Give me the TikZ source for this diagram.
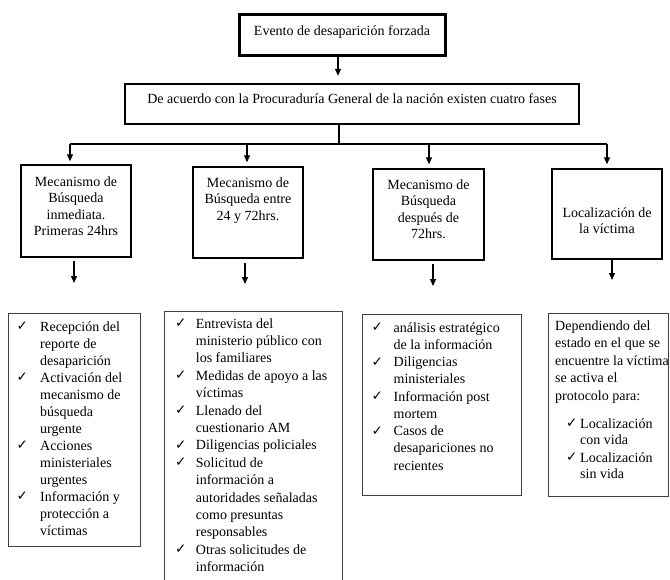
\documentclass[tikz,border=0pt]{standalone}
\usepackage{fontspec}
\usepackage{array}
\setmainfont{Liberation Serif}
\newfontfamily\chkfont{DejaVu Sans}
\usetikzlibrary{arrows.meta}
\newcommand{\ck}[1]{\makebox[#1][l]{\raisebox{0.3pt}{\chkfont\fontsize{13.5}{12}\selectfont ✓}}}
\newcommand{\cki}[2]{\makebox[#1][l]{\hspace*{#2}\raisebox{0.3pt}{\chkfont\fontsize{13.5}{12}\selectfont ✓}}}
\begin{document}
\begin{tikzpicture}[x=1pt,y=-1pt,
  thickbox/.style={draw, line width=3pt, inner sep=0pt},
  midbox/.style={draw, line width=2.4pt, inner sep=0pt},
  mechbox/.style={draw, line width=1.5pt, inner sep=0pt},
  listbox/.style={draw=black!75, line width=1pt},
  txt/.style={inner sep=0pt, font=\fontsize{14}{16.4}\selectfont},
  arr/.style={line width=1.3pt, -{Triangle[length=7pt,width=6pt]}},
  ln/.style={line width=1.3pt}]
\useasboundingbox (0,0) rectangle (670,579);
\clip (0,0) rectangle (670,579);

% top boxes
\node[thickbox, minimum width=206pt, minimum height=41pt] (top) at (342,34.5) {};
\node[txt, anchor=base] (toptxt) at (342,35) {Evento de desaparición forzada};
\node[midbox, minimum width=454pt, minimum height=40pt] (b2) at (352,104) {};
\node[txt, anchor=base] (b2txt) at (352,103) {De acuerdo con la Procuraduría General de la nación existen cuatro fases};

\coordinate (c1) at (338,0);
\coordinate (c2) at (339,0);
\draw[arr] (top.south -| c1) -- ([yshift=7pt]b2.north -| c1);

% mechanism boxes
\node[mechbox, minimum width=110pt, minimum height=92pt] (m1) at (76,211) {};
\node[mechbox, minimum width=110pt, minimum height=91pt] (m2) at (248,212.5) {};
\node[mechbox, minimum width=111pt, minimum height=91pt] (m3) at (428.5,214.5) {};
\node[mechbox, minimum width=110pt, minimum height=90pt] (m4) at (607,214) {};

\node[txt, anchor=base] (m1txt) at (76,186.5) {\begin{tabular}[t]{@{}c@{}}Mecanismo de\\Búsqueda\\inmediata.\\Primeras 24hrs\end{tabular}};
\node[txt, anchor=base] (m2txt) at (248,187.5) {\begin{tabular}[t]{@{}c@{}}Mecanismo de\\Búsqueda entre\\24 y 72hrs.\end{tabular}};
\node[txt, anchor=base] (m3txt) at (428.5,189.5) {\begin{tabular}[t]{@{}c@{}}Mecanismo de\\Búsqueda\\después de\\72hrs.\end{tabular}};
\node[txt, anchor=base] (m4txt) at (607,217.5) {\begin{tabular}[t]{@{}c@{}}Localización de\\la víctima\end{tabular}};

% branching connectors
\coordinate (h0) at (339,144);
\coordinate (h1) at (70,144);
\coordinate (h2) at (247,144);
\coordinate (h3) at (429,144);
\coordinate (h4) at (607,144);
\draw[ln] (b2.south -| c2) -- (h0);
\draw[ln] (h1) -- (h4);
\draw[arr, shorten >=3pt] (h1) -- (h1 |- m1.north);
\draw[arr, shorten >=4pt] (h2) -- (h2 |- m2.north);
\draw[arr, shorten >=4pt] (h3) -- (h3 |- m3.north);
\draw[arr, shorten >=4pt] (h4) -- (h4 |- m4.north);

% arrows below mechanism boxes
\coordinate (d1s) at (74,261);  \coordinate (d1e) at (74,283);
\coordinate (d2s) at (245,263); \coordinate (d2e) at (245,284);
\coordinate (d3s) at (433,264); \coordinate (d3e) at (433,286);
\coordinate (d4s) at (612,259.5); \coordinate (d4e) at (612,280);
\draw[arr] (d1s) -- (d1e);
\draw[arr] (d2s) -- (d2e);
\draw[arr] (d3s) -- (d3e);
\draw[arr] (d4s) -- (d4e);

% list boxes
\draw[listbox] (8,313) rectangle (140,546);
\draw[listbox] (164,311) rectangle (342,600);
\draw[listbox] (362,314) rectangle (521,495);
\draw[listbox] (548,313) rectangle (668,496);

\node[inner sep=0pt, anchor=base west, font=\fontsize{14}{17}\selectfont] (la) at (16.5,331) {%
\begin{tabular}[t]{@{}l@{}l@{}}
\ck{23.5pt} & Recepción del\\
 & reporte de\\
 & desaparición\\
\ck{23.5pt} & Activación del\\
 & mecanismo de\\
 & búsqueda\\
 & urgente\\
\ck{23.5pt} & Acciones\\
 & ministeriales\\
 & urgentes\\
\ck{23.5pt} & Información y\\
 & protección a\\
 & víctimas
\end{tabular}};

\node[inner sep=0pt, anchor=base west, font=\fontsize{14}{17.4}\selectfont] (lb) at (175,328) {%
\begin{tabular}[t]{@{}l@{}l@{}}
\ck{20.7pt} & Entrevista del\\
 & ministerio público con\\
 & los familiares\\
\ck{20.7pt} & Medidas de apoyo a las\\
 & víctimas\\
\ck{20.7pt} & Llenado del\\
 & cuestionario AM\\
\ck{20.7pt} & Diligencias policiales\\
\ck{20.7pt} & Solicitud de\\
 & información a\\
 & autoridades señaladas\\
 & como presuntas\\
 & responsables\\
\ck{20.7pt} & Otras solicitudes de\\
 & información
\end{tabular}};

\node[inner sep=0pt, anchor=base west, font=\fontsize{14}{17.25}\selectfont] (lc) at (371.5,332) {%
\begin{tabular}[t]{@{}l@{}l@{}}
\ck{22pt} & análisis estratégico\\
 & de la información\\
\ck{22pt} & Diligencias\\
 & ministeriales\\
\ck{22pt} & Información post\\
 & mortem\\
\ck{22pt} & Casos de\\
 & desapariciones no\\
 & recientes
\end{tabular}};

\node[inner sep=0pt, anchor=base west, font=\fontsize{14}{17.5}\selectfont] (ld) at (555,330) {%
\begin{tabular}[t]{@{}l@{}l@{}}
\multicolumn{2}{@{}l@{}}{Dependiendo del}\\
\multicolumn{2}{@{}l@{}}{estado en el que se}\\
\multicolumn{2}{@{}l@{}}{encuentre la víctima}\\
\multicolumn{2}{@{}l@{}}{se activa el}\\
\multicolumn{2}{@{}l@{}}{protocolo para:}\\[10.5pt]
\cki{25pt}{11pt} & Localización\\[-1.5pt]
 & con vida\\[0.5pt]
\cki{25pt}{11pt} & Localización\\[-1.5pt]
 & sin vida
\end{tabular}};
\end{tikzpicture}
\end{document}
